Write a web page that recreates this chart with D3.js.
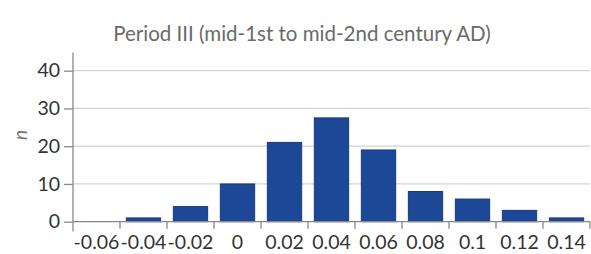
<!DOCTYPE html>
<html><head><meta charset="utf-8">
<script src="https://cdn.jsdelivr.net/npm/d3@7"></script>
<style>
html,body{margin:0;padding:0;background:#fff;}
svg{display:block;font-family:Lato,"Open Sans",sans-serif;}
</style></head>
<body>
<script>
const title = "Period III (mid-1st to mid-2nd century AD)";
const categories = ["-0.06","-0.04","-0.02","0","0.02","0.04","0.06","0.08","0.1","0.12","0.14"];
const counts = [0,1,4,10,21,27.5,19,8,6,3,1];
const yTicks = [0,10,20,30,40];
const yLabel = "n";

const W = 591, H = 254;
const m = {left:73, right:1, top:52, bottom:32};
const svg = d3.select("body").append("svg").attr("width",W).attr("height",H);

const x = d3.scaleBand().domain(categories).range([m.left, W - m.right]).paddingInner(0.27).paddingOuter(0.135);
const y = d3.scaleLinear().domain([0,40]).range([221.7, 70.7]);

// grid
svg.append("g").selectAll("line").data(yTicks.filter(d=>d>0)).join("line")
  .attr("x1", m.left).attr("x2", W - m.right)
  .attr("y1", d=>y(d)).attr("y2", d=>y(d))
  .attr("stroke","#d4d4d4").attr("stroke-width",1.2);

// bars
svg.append("g").selectAll("rect").data(categories).join("rect")
  .attr("x", d=>x(d)).attr("width", x.bandwidth())
  .attr("y", (d,i)=>y(counts[i])).attr("height", (d,i)=>y(0)-y(counts[i]))
  .attr("fill","#1d4898").attr("stroke","#163a7f").attr("stroke-width",1);

// y axis
const yAxis = svg.append("g").attr("transform",`translate(${m.left},0)`)
  .call(d3.axisLeft(y).tickValues(yTicks).tickSize(9).tickPadding(4).tickFormat(d3.format("d")));
yAxis.select(".domain").remove();
yAxis.append("line").attr("x1",0).attr("x2",0).attr("y1",52.5).attr("y2",231.5).attr("stroke","#888").attr("stroke-width",1.3);
yAxis.selectAll(".tick line").attr("stroke","#888").attr("stroke-width",1.3);
yAxis.selectAll(".tick text").attr("fill","#333").style("font-size","19.5px").attr("font-family","Lato,'Open Sans',sans-serif");

// x axis baseline and ticks at band edges
const edges = categories.map(c => x(c) - x.step()*x.paddingInner()/2);
edges.push(x(categories[categories.length-1]) + x.bandwidth() + x.step()*x.paddingInner()/2);
svg.append("line").attr("x1",m.left).attr("x2",W - m.right).attr("y1",y(0)).attr("y2",y(0))
  .attr("stroke","#888").attr("stroke-width",1.3);
svg.append("g").selectAll("line").data(edges.slice(1)).join("line")
  .attr("x1",d=>d).attr("x2",d=>d).attr("y1",y(0)).attr("y2",y(0)+7)
  .attr("stroke","#888").attr("stroke-width",1.3);
const xAxis = svg.append("g").attr("transform",`translate(0,${y(0)})`)
  .call(d3.axisBottom(x).tickSize(0).tickPadding(13));
xAxis.select(".domain").remove();
xAxis.selectAll(".tick text").attr("fill","#333").style("font-size","19.5px").attr("font-family","Lato,'Open Sans',sans-serif");

// title
svg.append("text").attr("x",302).attr("y",41).attr("text-anchor","middle")
  .attr("fill","#6a6a6a").style("font-size","20.5px").text(title);

// y label
svg.append("text").attr("transform","translate(27,135) rotate(-90)").attr("text-anchor","middle")
  .attr("fill","#777").style("font-size","19px").style("font-style","italic").text(yLabel);
</script>
</body></html>
